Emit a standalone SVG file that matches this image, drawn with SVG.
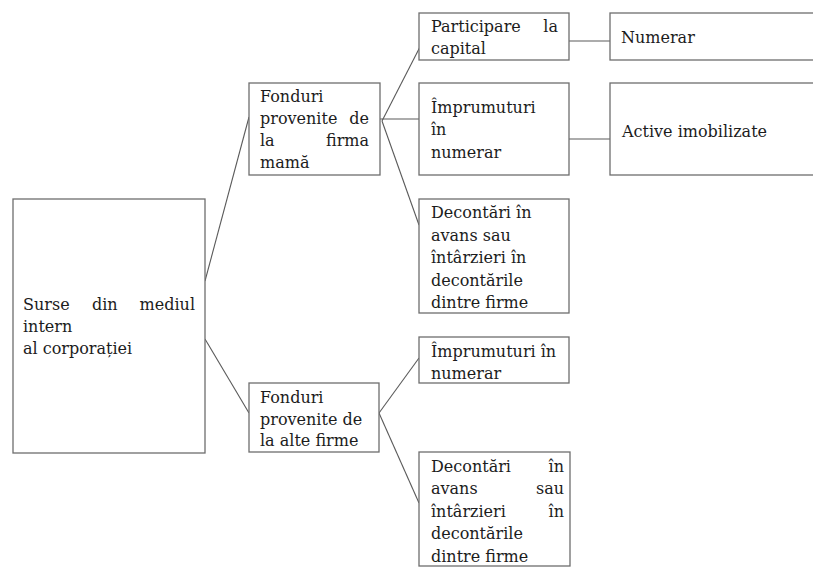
<svg xmlns="http://www.w3.org/2000/svg" width="813" height="568" viewBox="0 0 813 568">
<style>
.box{fill:#fff;stroke:#6e6e6e;stroke-width:1.3}
.ln{stroke:#5a5a5a;stroke-width:1.1;fill:none}
text{font-family:"DejaVu Serif","Liberation Serif",serif;font-size:16px;fill:#1c1c1c}
.e{text-anchor:end}
</style>
<rect width="813" height="568" fill="#fff"/>
<g id="connectors">
<line class="ln" x1="205" y1="281" x2="249" y2="117"/>
<line class="ln" x1="205" y1="339" x2="249" y2="413"/>
<line class="ln" x1="382" y1="121" x2="422" y2="43"/>
<line class="ln" x1="380" y1="119" x2="419" y2="119"/>
<line class="ln" x1="382" y1="121" x2="419" y2="225"/>
<line class="ln" x1="569" y1="41" x2="610" y2="41"/>
<line class="ln" x1="569" y1="139" x2="610" y2="139"/>
<line class="ln" x1="379" y1="413" x2="419" y2="358"/>
<line class="ln" x1="379" y1="413" x2="419" y2="503"/>
</g>
<g id="surse">
<rect class="box" x="13" y="199" width="192" height="254"/>
<text x="23" y="310">Surse</text><text x="92" y="310">din</text><text class="e" x="195" y="310">mediul</text>
<text x="23" y="332">intern</text>
<text x="23" y="354">al corporației</text>
</g>
<g id="fonduri-mama">
<rect class="box" x="249" y="83" width="131" height="92"/>
<text x="260" y="102">Fonduri</text>
<text x="260" y="124">provenite</text><text class="e" x="369" y="124">de</text>
<text x="260" y="146">la</text><text class="e" x="369" y="146">firma</text>
<text x="260" y="168">mamă</text>
</g>
<g id="fonduri-alte">
<rect class="box" x="249" y="383" width="130" height="69"/>
<text x="260" y="403">Fonduri</text>
<text x="260" y="425">provenite de</text>
<text x="260" y="446">la alte firme</text>
</g>
<g id="participare">
<rect class="box" x="419" y="13" width="150" height="47"/>
<text x="431" y="32">Participare</text><text class="e" x="558" y="32">la</text>
<text x="431" y="54">capital</text>
</g>
<g id="imprumuturi1">
<rect class="box" x="419" y="83" width="150" height="92"/>
<text x="431" y="113">Împrumuturi</text>
<text x="431" y="135">în</text>
<text x="431" y="158">numerar</text>
</g>
<g id="decontari1">
<rect class="box" x="419" y="199" width="150" height="114"/>
<text x="431" y="218">Decontări în</text>
<text x="431" y="241">avans sau</text>
<text x="431" y="263">întârzieri în</text>
<text x="431" y="286">decontările</text>
<text x="431" y="308">dintre firme</text>
</g>
<g id="imprumuturi2">
<rect class="box" x="419" y="337" width="150" height="46"/>
<text x="431" y="357">Împrumuturi în</text>
<text x="431" y="379">numerar</text>
</g>
<g id="decontari2">
<rect class="box" x="419" y="452" width="151" height="114"/>
<text x="431" y="472">Decontări</text><text class="e" x="564" y="472">în</text>
<text x="431" y="494">avans</text><text class="e" x="564" y="494">sau</text>
<text x="431" y="517">întârzieri</text><text class="e" x="564" y="517">în</text>
<text x="431" y="539">decontările</text>
<text x="431" y="562">dintre firme</text>
</g>
<g id="numerar">
<rect class="box" x="610" y="13" width="210" height="47"/>
<text x="621" y="43">Numerar</text>
</g>
<g id="active">
<rect class="box" x="610" y="83" width="210" height="92"/>
<text x="622" y="137">Active imobilizate</text>
</g>
</svg>
